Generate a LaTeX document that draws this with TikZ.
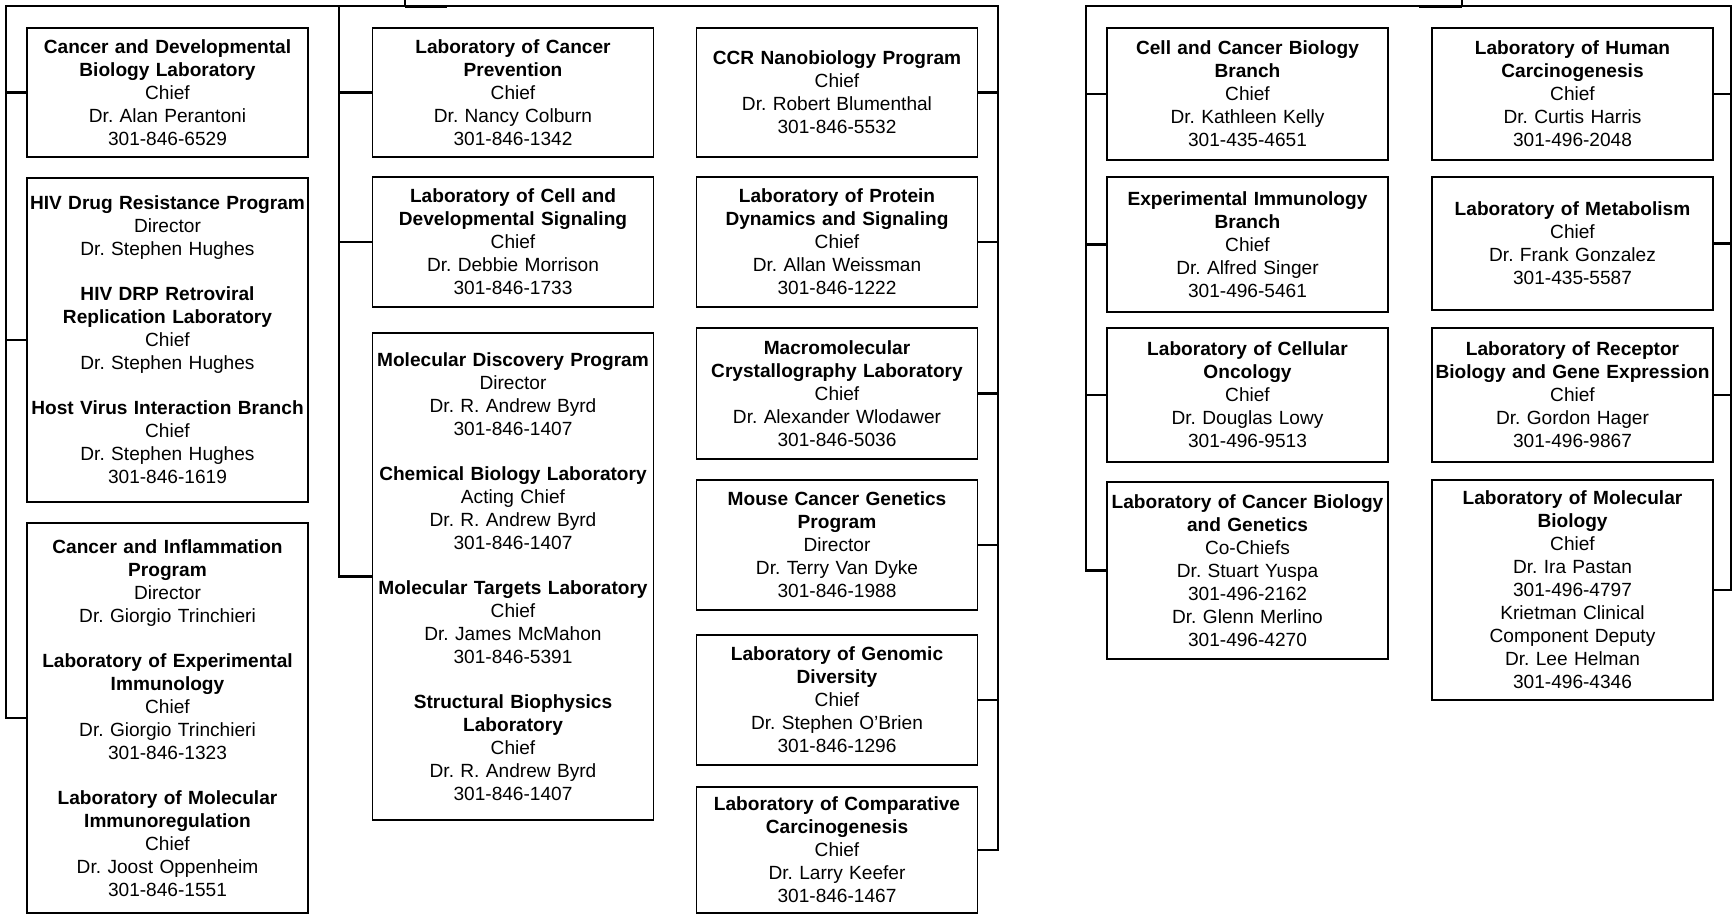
\documentclass[tikz,border=0pt]{standalone}
\usepackage{fontspec}
\setmainfont{Liberation Sans}
\frenchspacing
\begin{document}
\begin{tikzpicture}[x=1pt,y=-1pt,
  unit/.style={draw, line width=1.4pt, inner xsep=3pt, inner ysep=0pt,
    text width=275pt, align=center, font=\fontsize{19.1}{23}\selectfont\frenchspacing},
  conn/.style={line width=2.6pt, line join=miter}]
\useasboundingbox (0,0) rectangle (1734,914);
\newcommand{\hd}[1]{\textbf{#1}}
\newcommand{\gap}{\\[22pt]}
% ---------- column 1
\node[unit, minimum height=129pt] (b1) at (167.5,92.5)
 {\hd{Cancer and Developmental}\\\hd{Biology Laboratory}\\Chief\\Dr. Alan Perantoni\\301-846-6529};
\node[unit, minimum height=324pt] (b2) at (167.5,340)
 {\hd{HIV Drug Resistance Program}\\Director\\Dr. Stephen Hughes\gap
  \hd{HIV DRP Retroviral}\\\hd{Replication Laboratory}\\Chief\\Dr. Stephen Hughes\gap
  \hd{Host Virus Interaction Branch}\\Chief\\Dr. Stephen Hughes\\301-846-1619};
\node[unit, minimum height=390pt] (b3) at (167.5,718)
 {\hd{Cancer and Inflammation}\\\hd{Program}\\Director\\Dr. Giorgio Trinchieri\gap
  \hd{Laboratory of Experimental}\\\hd{Immunology}\\Chief\\Dr. Giorgio Trinchieri\\301-846-1323\gap
  \hd{Laboratory of Molecular}\\\hd{Immunoregulation}\\Chief\\Dr. Joost Oppenheim\\301-846-1551};
% ---------- column 2
\node[unit, minimum height=129pt] (b4) at (513,92.5)
 {\hd{Laboratory of Cancer}\\\hd{Prevention}\\Chief\\Dr. Nancy Colburn\\301-846-1342};
\node[unit, minimum height=130pt] (b5) at (513,242)
 {\hd{Laboratory of Cell and}\\\hd{Developmental Signaling}\\Chief\\Dr. Debbie Morrison\\301-846-1733};
\node[unit, minimum height=487pt] (b6) at (513,576.5)
 {\hd{Molecular Discovery Program}\\Director\\Dr. R. Andrew Byrd\\301-846-1407\gap
  \hd{Chemical Biology Laboratory}\\Acting Chief\\Dr. R. Andrew Byrd\\301-846-1407\gap
  \hd{Molecular Targets Laboratory}\\Chief\\Dr. James McMahon\\301-846-5391\gap
  \hd{Structural Biophysics}\\\hd{Laboratory}\\Chief\\Dr. R. Andrew Byrd\\301-846-1407};
% ---------- column 3
\node[unit, minimum height=129pt] (b7) at (837,92.5)
 {\hd{CCR Nanobiology Program}\\Chief\\Dr. Robert Blumenthal\\301-846-5532};
\node[unit, minimum height=130pt] (b8) at (837,242)
 {\hd{Laboratory of Protein}\\\hd{Dynamics and Signaling}\\Chief\\Dr. Allan Weissman\\301-846-1222};
\node[unit, minimum height=131pt] (b9) at (837,393.5)
 {\hd{Macromolecular}\\\hd{Crystallography Laboratory}\\Chief\\Dr. Alexander Wlodawer\\301-846-5036};
\node[unit, minimum height=130pt] (b10) at (837,545)
 {\hd{Mouse Cancer Genetics}\\\hd{Program}\\Director\\Dr. Terry Van Dyke\\301-846-1988};
\node[unit, minimum height=130pt] (b11) at (837,700)
 {\hd{Laboratory of Genomic}\\\hd{Diversity}\\Chief\\Dr. Stephen O{\char"27}Brien\\301-846-1296};
\node[unit, minimum height=126pt] (b12) at (837,850)
 {\hd{Laboratory of Comparative}\\\hd{Carcinogenesis}\\Chief\\Dr. Larry Keefer\\301-846-1467};
% ---------- column 4
\node[unit, minimum height=132pt] (b13) at (1247.5,94)
 {\hd{Cell and Cancer Biology}\\\hd{Branch}\\Chief\\Dr. Kathleen Kelly\\301-435-4651};
\node[unit, minimum height=135pt] (b14) at (1247.5,244.5)
 {\hd{Experimental Immunology}\\\hd{Branch}\\Chief\\Dr. Alfred Singer\\301-496-5461};
\node[unit, minimum height=134pt] (b15) at (1247.5,395)
 {\hd{Laboratory of Cellular}\\\hd{Oncology}\\Chief\\Dr. Douglas Lowy\\301-496-9513};
\node[unit, minimum height=177pt] (b16) at (1247.5,570.5)
 {\hd{Laboratory of Cancer Biology}\\\hd{and Genetics}\\Co-Chiefs\\Dr. Stuart Yuspa\\301-496-2162\\Dr. Glenn Merlino\\301-496-4270};
% ---------- column 5
\node[unit, minimum height=132pt] (b17) at (1572.5,94)
 {\hd{Laboratory of Human}\\\hd{Carcinogenesis}\\Chief\\Dr. Curtis Harris\\301-496-2048};
\node[unit, minimum height=133pt] (b18) at (1572.5,243.5)
 {\hd{Laboratory of Metabolism}\\Chief\\Dr. Frank Gonzalez\\301-435-5587};
\node[unit, minimum height=134pt] (b19) at (1572.5,395)
 {\hd{Laboratory of Receptor}\\\hd{Biology and Gene Expression}\\Chief\\Dr. Gordon Hager\\301-496-9867};
\node[unit, minimum height=220pt] (b20) at (1572.5,590)
 {\hd{Laboratory of Molecular}\\\hd{Biology}\\Chief\\Dr. Ira Pastan\\301-496-4797\\Krietman Clinical\\Component Deputy\\Dr. Lee Helman\\301-496-4346};
% ---------- connectors, left group
\coordinate (pL) at (405,0);
\coordinate (jL) at (405,6);
\coordinate (s1) at (6,6);
\coordinate (s2) at (339,6);
\coordinate (s3) at (998,6);
\draw[conn] (pL) -- (jL);
\draw[line width=3.4pt] (405,6.5) -- (447,6.5);
\draw[conn] (b3.west) -| (s1) -- (s3) |- (b12.east);
\draw[conn] (s2) |- (b6.west);
\foreach \b in {b1,b2} \draw[conn] (\b.west) -- (\b.west -| s1);
\foreach \b in {b4,b5} \draw[conn] (\b.west) -- (\b.west -| s2);
\foreach \b in {b7,b8,b9,b10,b11} \draw[conn] (\b.east) -- (\b.east -| s3);
% ---------- connectors, right group
\coordinate (pR) at (1462,0);
\coordinate (jR) at (1462,6);
\coordinate (s4) at (1086,6);
\coordinate (s5) at (1731,6);
\draw[conn] (pR) -- (jR);
\draw[line width=3.4pt] (1419,6.5) -- (1462,6.5);
\draw[conn] (b16.west) -| (s4) -- (s5) |- (b20.east);
\foreach \b in {b13,b14,b15} \draw[conn] (\b.west) -- (\b.west -| s4);
\foreach \b in {b17,b18,b19} \draw[conn] (\b.east) -- (\b.east -| s5);
\end{tikzpicture}
\end{document}
